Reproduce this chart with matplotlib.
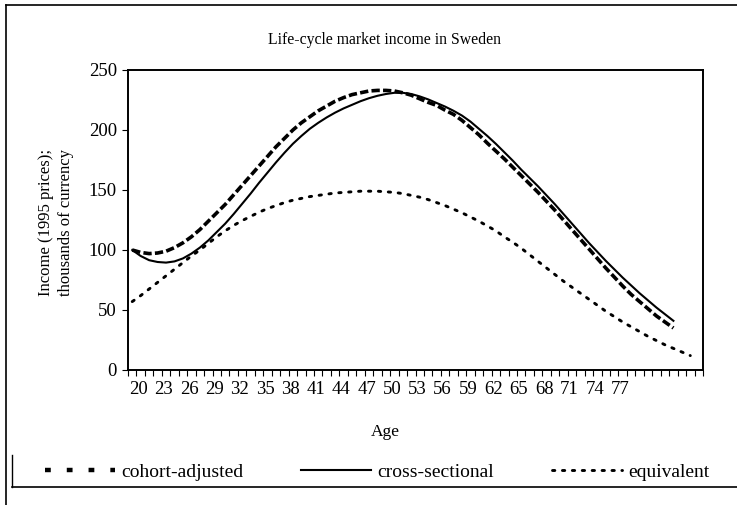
import numpy as np
import matplotlib
matplotlib.use("Agg")
import matplotlib.pyplot as plt
from matplotlib.lines import Line2D
from matplotlib.transforms import ScaledTranslation

plt.rcParams['font.family'] = ['Liberation Serif', 'DejaVu Serif']

# ---- data ----
ages = list(range(20, 88))  # category axis 20..87

cohort_adjusted = [100, 98, 97, 97.5, 99, 102, 106, 111, 117, 124,
                   131, 138, 146, 154, 162, 170, 178, 186, 193, 200,
                   206, 211, 216, 220, 224, 227, 229.5, 231, 232.5, 233,
                   233, 232.5, 231, 229, 226, 223, 220.5, 216.5, 213, 208,
                   202, 196, 189, 182.5, 176, 169, 162, 155, 148, 140.5,
                   133, 125, 117, 109, 101, 93, 85, 77.5, 70, 63,
                   57, 51, 45, 40, 35]

cross_sectional = [100, 95, 91.5, 90, 89.5, 90.5, 93, 97, 102, 108,
                   115, 122, 130, 138.5, 147, 156, 164.5, 173, 181, 188.5,
                   195, 201, 206, 210.5, 214.5, 218, 221, 224, 226.5, 228.5,
                   230, 231, 231, 230, 228, 225.5, 222.5, 219.5, 216, 212,
                   207, 201, 195, 188.5, 181.5, 174.5, 167, 160, 153, 145.5,
                   138, 130, 122, 114, 106, 98.5, 91, 84, 77, 70.5,
                   64, 58, 52, 46.5, 41]

equivalent = [57, 62, 67.5, 73, 78.5, 84, 89.5, 95, 100, 105.5,
              111, 116, 120.5, 124.5, 128, 131.5, 134.5, 137, 139.5, 141.5,
              143, 144.5, 145.5, 146.5, 147.5, 148, 148.5, 149, 149, 149,
              148.5, 148, 147, 145.5, 144, 142, 139.5, 137, 134, 131,
              127.5, 124, 120, 116, 111, 106.5, 101.5, 96, 90.5, 85,
              79.5, 74, 69, 64, 59, 54, 49, 44.5, 40, 36,
              32, 28, 24.5, 21, 18, 15, 12]

series_names = ['cohort-adjusted', 'cross-sectional', 'equivalent']
label_ages = list(range(20, 78, 3))
y_ticks = [0, 50, 100, 150, 200, 250]

# ---- figure ----
fig = plt.figure(figsize=(7.37, 5.05), dpi=100)
ax = fig.add_axes([128/737, 1-370/505, (703-128)/737, 300/505])

n = len(ages)
ax.plot(range(len(cohort_adjusted)), cohort_adjusted, color='black', lw=2.6,
        linestyle=(0, (2.3, 0.9)), dash_capstyle='butt')
ax.plot(range(len(cross_sectional)), cross_sectional, color='black', lw=1.5,
        linestyle='-')
ax.plot(range(len(equivalent)), equivalent, color='black', lw=2.1,
        linestyle=(0, (0.8, 2.6)), dash_capstyle='round')

ax.set_xlim(-0.5, n - 0.5)
ax.set_ylim(0, 250)

# category boundaries ticks
ax.set_xticks([i - 0.5 for i in range(n + 1)], minor=True)
ax.tick_params(axis='x', which='minor', length=4, width=0.8, direction='out')
ax.set_xticks([ages.index(a) for a in label_ages])
ax.set_xticklabels([str(a) for a in label_ages], fontsize=13.5)
ax.tick_params(axis='x', which='major', length=0, pad=8)
shift = ScaledTranslation(6/100, 0, fig.dpi_scale_trans)
for lab in ax.get_xticklabels():
    lab.set_transform(lab.get_transform() + shift)

ax.set_yticks(y_ticks)
ax.set_yticklabels([str(v) for v in y_ticks], fontsize=13.5)
ax.tick_params(axis='y', length=4, width=0.8, direction='out', pad=4)

for s in ax.spines.values():
    s.set_linewidth(1.4)

fig.text(385/737, 1-40/505, 'Life-cycle market income in Sweden',
         ha='center', va='center', fontsize=11.3)
fig.text(385/737, 1-432/505, 'Age', ha='center', va='center', fontsize=12.5)
fig.text(56/737, 1-222/505, 'Income (1995 prices);\nthousands of currency',
         ha='center', va='center', rotation=90, fontsize=12,
         multialignment='center', linespacing=1.35)

# legend (proxy handles styled like the reference legend keys)
leg_handles = [
    Line2D([], [], color='black', lw=3.2, linestyle=(0, (1.3, 3.6)), dash_capstyle='butt'),
    Line2D([], [], color='black', lw=1.5, linestyle='-'),
    Line2D([], [], color='black', lw=2.1, linestyle=(0, (0.8, 2.6)), dash_capstyle='round'),
]
leg = fig.legend(leg_handles, series_names, loc='center', ncol=3,
                 bbox_to_anchor=(377/737, 1-472/505), frameon=False,
                 fontsize=14, handlelength=3.6, handletextpad=0.3,
                 columnspacing=3.0)

# outer border (left & top visible) and legend box (left & bottom)
fig.add_artist(Line2D([6/737, 6/737], [0, 1-5/505], transform=fig.transFigure,
                      color='black', lw=1.2))
fig.add_artist(Line2D([6/737, 1], [1-5/505, 1-5/505], transform=fig.transFigure,
                      color='black', lw=1.2))
fig.add_artist(Line2D([12/737, 12/737], [1-487/505, 1-455/505], transform=fig.transFigure,
                      color='black', lw=1.0))
fig.add_artist(Line2D([12/737, 1], [1-487/505, 1-487/505], transform=fig.transFigure,
                      color='black', lw=1.2))

fig.savefig('out.png', dpi=100)
